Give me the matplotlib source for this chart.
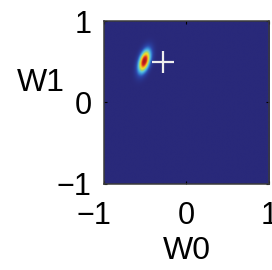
import matplotlib.pyplot as plt
import matplotlib.transforms as mtransforms
import numpy as np
from matplotlib.colors import LinearSegmentedColormap

# posterior blob parameters
BLOB_MEAN = [-0.515, 0.51]
BLOB_STD = [0.05, 0.095]
BLOB_CORR = 0.45
TRUE_W = [-0.29, 0.50]

TICKS = [-1, 0, 1]
TICK_LABELS = ["\u22121", "0", "1"]
GRID_N = 300

# softened jet, as in the printed figure
CMAP_COLORS = ["#29297a", "#2c45a8", "#3a8bd6", "#5cc6e2", "#a6d46a",
               "#f4e424", "#f39a22", "#d8261e", "#a81a16"]

plt.rcParams["font.family"] = ["Liberation Sans", "DejaVu Sans"]


def blob_density(xx, yy):
    sx, sy = BLOB_STD
    dx = (xx - BLOB_MEAN[0]) / sx
    dy = (yy - BLOB_MEAN[1]) / sy
    r = BLOB_CORR
    q = (dx ** 2 - 2 * r * dx * dy + dy ** 2) / (1 - r ** 2)
    return np.exp(-0.5 * q)


def main():
    g = np.linspace(-1, 1, GRID_N)
    xx, yy = np.meshgrid(g, g)
    z = blob_density(xx, yy)
    cmap = LinearSegmentedColormap.from_list("soft_jet", CMAP_COLORS)

    fig = plt.figure(figsize=(2.72, 2.70), dpi=100)
    ax = fig.add_axes([0.382, 0.319, 0.607, 0.603])
    ax.imshow(z, extent=[-1, 1, -1, 1], origin="lower", cmap=cmap,
              aspect="auto", interpolation="bilinear")
    ax.plot(TRUE_W[0], TRUE_W[1], marker="+", color="#eeeeee",
            markersize=16, markeredgewidth=1.6)

    ax.set_xlim(-1, 1)
    ax.set_ylim(-1, 1)
    ax.set_xticks(TICKS)
    ax.set_xticklabels(TICK_LABELS)
    ax.set_yticks(TICKS)
    ax.set_yticklabels(TICK_LABELS)
    ax.tick_params(axis="x", direction="in", length=2.5, labelsize=22, pad=12,
                   top=True)
    ax.tick_params(axis="y", direction="in", length=2.5, labelsize=22, pad=9,
                   right=True)
    for s in ax.spines.values():
        s.set_color("#3a3a3a")
        s.set_linewidth(1.1)

    # matlab-style: the minus hangs left of the first x tick
    lab = ax.get_xticklabels()[0]
    lab.set_horizontalalignment("right")
    lab.set_transform(lab.get_transform() + mtransforms.ScaledTranslation(
        7 / 100, 0, fig.dpi_scale_trans))

    ax.set_xlabel("W0", fontsize=23, va="center")
    ax.xaxis.set_label_coords(0.5, -0.414)
    ax.set_ylabel("W1", fontsize=23, rotation=0, ha="right", va="center")
    ax.yaxis.set_label_coords(-0.236, 0.617)

    fig.savefig("out.png", dpi=100)
    plt.close(fig)


if __name__ == "__main__":
    main()
